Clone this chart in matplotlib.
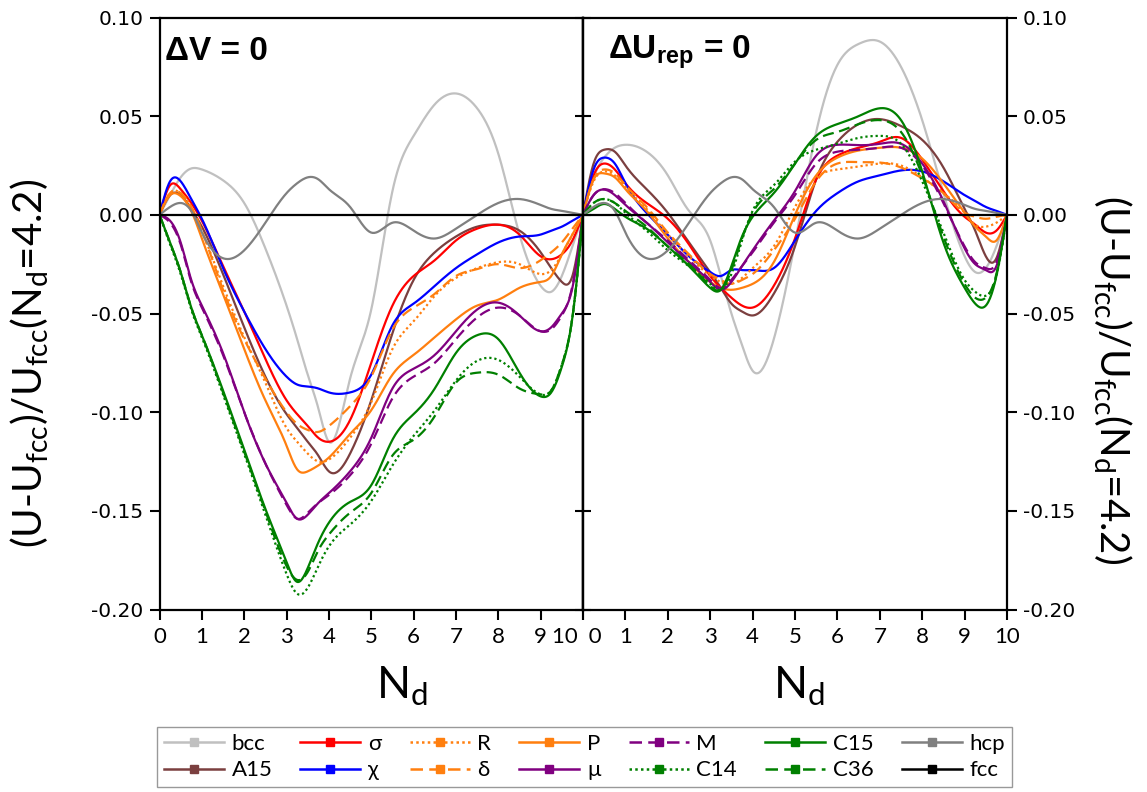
import numpy as np
import matplotlib
matplotlib.use("Agg")
import matplotlib.pyplot as plt
from matplotlib.lines import Line2D
from matplotlib.ticker import FormatStrFormatter

# ---------------------------------------------------------------- data
nd = [0, 0.25, 0.5, 0.75, 1, 1.5, 2, 2.5, 3, 3.25, 3.5, 3.75, 4, 4.5, 5,
      5.5, 6, 6.5, 7, 7.5, 8, 8.5, 9, 9.25, 9.5, 9.75, 10]
nd_ticks = [0, 1, 2, 3, 4, 5, 6, 7, 8, 9, 10]

# Panel 1: Delta V = 0
bcc_dv = [0, 0.010, 0.019, 0.0235, 0.023, 0.0175, 0.006, -0.017, -0.046, -0.063, -0.081, -0.098, -0.115,
          -0.083, -0.048, 0.012, 0.040, 0.056, 0.0615, 0.054, 0.031, -0.010, -0.036, -0.039, -0.031, -0.016, 0]
a15_dv = [0, 0.010, 0.010, 0.003, -0.006, -0.030, -0.057, -0.082, -0.101, -0.108, -0.115, -0.122, -0.130,
          -0.121, -0.094, -0.060, -0.033, -0.019, -0.011, -0.006, -0.005, -0.008, -0.019, -0.027, -0.034, -0.031, 0]
sigma_dv = [0, 0.015, 0.013, 0.006, -0.003, -0.026, -0.049, -0.073, -0.094, -0.101, -0.107, -0.113, -0.115,
            -0.104, -0.075, -0.046, -0.031, -0.023, -0.013, -0.007, -0.005, -0.010, -0.021, -0.0225, -0.020, -0.013, 0]
chi_dv = [0, 0.017, 0.017, 0.008, -0.002, -0.027, -0.049, -0.068, -0.082, -0.086, -0.087, -0.088, -0.090,
          -0.090, -0.081, -0.056, -0.045, -0.036, -0.027, -0.020, -0.014, -0.011, -0.010, -0.008, -0.006, -0.003, 0]
r_dv = [0, 0.011, 0.011, 0.004, -0.008, -0.036, -0.062, -0.085, -0.108, -0.115, -0.121, -0.125, -0.124,
        -0.113, -0.095, -0.068, -0.054, -0.041, -0.032, -0.027, -0.024, -0.025, -0.030, -0.028, -0.020, -0.010, 0]
delta_dv = [0, 0.011, 0.011, 0.004, -0.008, -0.038, -0.063, -0.083, -0.100, -0.106, -0.109, -0.110, -0.107,
            -0.097, -0.082, -0.058, -0.047, -0.040, -0.031, -0.0275, -0.025, -0.027, -0.023, -0.019, -0.014, -0.007, 0]
p_dv = [0, 0.010, 0.0095, 0.002, -0.012, -0.040, -0.068, -0.094, -0.117, -0.129, -0.130, -0.127, -0.123,
        -0.111, -0.099, -0.081, -0.071, -0.062, -0.053, -0.046, -0.043, -0.037, -0.034, -0.031, -0.020, -0.010, 0]
mu_dv = [0, -0.003, -0.014, -0.033, -0.046, -0.070, -0.100, -0.126, -0.146, -0.154, -0.152, -0.146, -0.141,
         -0.130, -0.113, -0.088, -0.078, -0.071, -0.059, -0.048, -0.0445, -0.051, -0.059, -0.057, -0.050, -0.037, 0]
m_dv = [0, -0.004, -0.015, -0.034, -0.047, -0.071, -0.100, -0.126, -0.147, -0.154, -0.151, -0.146, -0.142,
        -0.132, -0.116, -0.093, -0.082, -0.075, -0.063, -0.052, -0.047, -0.051, -0.059, -0.058, -0.051, -0.036, 0]
c14_dv = [0, -0.015, -0.030, -0.048, -0.062, -0.091, -0.121, -0.152, -0.182, -0.192, -0.189, -0.178, -0.168,
          -0.157, -0.145, -0.127, -0.112, -0.099, -0.084, -0.074, -0.0735, -0.082, -0.091, -0.089, -0.076, -0.052, 0]
c15_dv = [0, -0.014, -0.029, -0.047, -0.061, -0.089, -0.119, -0.149, -0.176, -0.186, -0.179, -0.166, -0.156,
          -0.1455, -0.137, -0.114, -0.101, -0.088, -0.070, -0.061, -0.063, -0.080, -0.092, -0.090, -0.077, -0.052, 0]
c36_dv = [0, -0.014, -0.029, -0.047, -0.061, -0.090, -0.120, -0.150, -0.178, -0.185, -0.181, -0.170, -0.162,
          -0.151, -0.141, -0.122, -0.114, -0.102, -0.085, -0.080, -0.081, -0.088, -0.091, -0.089, -0.076, -0.052, 0]

# Panel 2: Delta U_rep = 0
bcc_du = [0, 0.019, 0.029, 0.034, 0.0355, 0.032, 0.020, 0.002, -0.013, -0.031, -0.050, -0.066, -0.079,
          -0.063, -0.014, 0.042, 0.076, 0.0866, 0.0878, 0.075, 0.048, 0.011, -0.021, -0.029, -0.027, -0.016, 0]
a15_du = [0, 0.026, 0.033, 0.032, 0.025, 0.013, 0.001, -0.014, -0.029, -0.037, -0.045, -0.049, -0.051,
          -0.040, -0.016, 0.018, 0.037, 0.046, 0.0485, 0.045, 0.038, 0.024, 0.003, -0.008, -0.021, -0.022, 0]
sigma_du = [0, 0.020, 0.026, 0.023, 0.016, 0.006, -0.002, -0.015, -0.031, -0.037, -0.042, -0.046, -0.047,
            -0.036, -0.012, 0.018, 0.030, 0.034, 0.037, 0.039, 0.028, 0.012, -0.001, -0.005, -0.009, -0.008, 0]
chi_du = [0, 0.023, 0.029, 0.026, 0.016, 0.001, -0.010, -0.021, -0.029, -0.031, -0.028, -0.028, -0.028,
          -0.027, -0.013, 0.002, 0.011, 0.017, 0.020, 0.0225, 0.022, 0.017, 0.010, 0.007, 0.004, 0.002, 0]
r_du = [0, 0.017, 0.022, 0.020, 0.014, 0.003, -0.010, -0.021, -0.031, -0.034, -0.035, -0.032, -0.027,
        -0.016, 0.004, 0.019, 0.023, 0.0245, 0.026, 0.025, 0.019, 0.011, 0.001, -0.005, -0.006, -0.004, 0]
delta_du = [0, 0.018, 0.023, 0.021, 0.015, 0.004, -0.009, -0.020, -0.030, -0.033, -0.035, -0.033, -0.030,
            -0.018, -0.002, 0.017, 0.026, 0.0267, 0.0265, 0.024, 0.0185, 0.011, 0.001, -0.001, -0.002, -0.001, 0]
p_du = [0, 0.018, 0.021, 0.019, 0.013, 0.002, -0.012, -0.024, -0.034, -0.037, -0.038, -0.037, -0.035,
        -0.024, 0.000, 0.020, 0.029, 0.0326, 0.034, 0.034, 0.0285, 0.016, 0.001, -0.006, -0.011, -0.013, 0]
mu_du = [0, 0.010, 0.0128, 0.010, 0.005, -0.004, -0.014, -0.024, -0.034, -0.038, -0.034, -0.026, -0.018,
         -0.003, 0.012, 0.030, 0.0355, 0.0353, 0.036, 0.036, 0.026, 0.007, -0.017, -0.025, -0.028, -0.026, 0]
m_du = [0, 0.010, 0.013, 0.011, 0.006, -0.004, -0.013, -0.023, -0.033, -0.037, -0.033, -0.026, -0.019,
        -0.004, 0.010, 0.026, 0.032, 0.033, 0.034, 0.034, 0.025, 0.006, -0.016, -0.024, -0.027, -0.024, 0]
c14_du = [0, 0.006, 0.008, 0.006, 0.001, -0.008, -0.018, -0.026, -0.035, -0.038, -0.030, -0.013, 0.002,
          0.015, 0.027, 0.033, 0.036, 0.039, 0.040, 0.036, 0.017, -0.009, -0.033, -0.039, -0.041, -0.031, 0]
c15_du = [0, 0.003, 0.0055, 0.003, -0.001, -0.007, -0.016, -0.026, -0.037, -0.038, -0.026, -0.011, -0.001,
          0.011, 0.026, 0.040, 0.046, 0.050, 0.054, 0.048, 0.022, -0.014, -0.037, -0.045, -0.046, -0.031, 0]
c36_du = [0, 0.006, 0.008, 0.006, 0.002, -0.006, -0.016, -0.025, -0.036, -0.038, -0.028, -0.012, 0.001,
          0.013, 0.026, 0.038, 0.042, 0.046, 0.048, 0.042, 0.020, -0.011, -0.035, -0.042, -0.042, -0.030, 0]

# hcp and the fcc reference are the same in both panels
hcp = [0, 0.004, 0.006, 0.002, -0.009, -0.022, -0.018, -0.004, 0.011, 0.016, 0.019, 0.018, 0.013,
       0.004, -0.009, -0.004, -0.008, -0.012, -0.007, 0.000, 0.006, 0.008, 0.005, 0.003, 0.002, 0.001, 0]
fcc = [0, 0, 0, 0, 0, 0, 0, 0, 0, 0, 0, 0, 0, 0, 0, 0, 0, 0, 0, 0, 0, 0, 0, 0, 0, 0, 0]

labels = ["bcc", "A15", "σ", "χ", "R", "δ", "P", "μ", "M", "C14", "C15", "C36", "hcp", "fcc"]
colors = ["#c0c0c0", "#7b3f3f", "#ff0000", "#0000ff", "#ff7f0f", "#ff7f0f", "#ff7f0f",
          "#800080", "#800080", "#008000", "#008000", "#008000", "#808080", "#000000"]
styles = ["-", "-", "-", "-", (0, (1, 1.3)), (0, (5, 2.5)), "-",
          "-", (0, (5, 2.5)), (0, (1, 1.3)), "-", (0, (5, 2.5)), "-", "-"]

series_dv = [bcc_dv, a15_dv, sigma_dv, chi_dv, r_dv, delta_dv, p_dv, mu_dv, m_dv,
             c14_dv, c15_dv, c36_dv, hcp, fcc]
series_du = [bcc_du, a15_du, sigma_du, chi_du, r_du, delta_du, p_du, mu_du, m_du,
             c14_du, c15_du, c36_du, hcp, fcc]


def spline(x, y, n=500):
    """Natural cubic spline through the points (smooth line connection)."""
    x = np.asarray(x, float)
    y = np.asarray(y, float)
    k = len(x)
    h = np.diff(x)
    A = np.zeros((k, k))
    b = np.zeros(k)
    A[0, 0] = A[-1, -1] = 1.0
    for i in range(1, k - 1):
        A[i, i - 1] = h[i - 1]
        A[i, i] = 2 * (h[i - 1] + h[i])
        A[i, i + 1] = h[i]
        b[i] = 6 * ((y[i + 1] - y[i]) / h[i] - (y[i] - y[i - 1]) / h[i - 1])
    M = np.linalg.solve(A, b)
    xs = np.linspace(x[0], x[-1], n)
    j = np.clip(np.searchsorted(x, xs) - 1, 0, k - 2)
    hh = x[j + 1] - x[j]
    t0 = x[j + 1] - xs
    t1 = xs - x[j]
    ys = (M[j] * t0 ** 3 / (6 * hh) + M[j + 1] * t1 ** 3 / (6 * hh)
          + (y[j] / hh - M[j] * hh / 6) * t0 + (y[j + 1] / hh - M[j + 1] * hh / 6) * t1)
    return xs, ys


# ---------------------------------------------------------------- figure
plt.rcParams["axes.unicode_minus"] = False
plt.rcParams["mathtext.fontset"] = "custom"
plt.rcParams["mathtext.rm"] = "Lato"
plt.rcParams["mathtext.bf"] = "Liberation Sans:bold"

NARROW = ["Lato", "DejaVu Sans"]
W, H = 1147, 792
fig = plt.figure(figsize=(W / 100, H / 100), dpi=100)


def fx(px):
    return px / W


def fy(py):
    return 1 - py / H


ax1 = fig.add_axes([fx(159.5), fy(609.5), (583 - 159.5) / W, (609.5 - 17.5) / H])
ax2 = fig.add_axes([fx(583), fy(609.5), (1007 - 583) / W, (609.5 - 17.5) / H])

yticks = [-0.20, -0.15, -0.10, -0.05, 0.00, 0.05, 0.10]

for ax, data in ((ax1, series_dv), (ax2, series_du)):
    for vals, lab, col, ls in zip(data, labels, colors, styles):
        xs, ys = spline(nd, vals)
        z = 5 if lab == "fcc" else 2
        ax.plot(xs, ys, color=col, ls=ls, lw=1.6, zorder=z, solid_capstyle="round")
    ax.set_xlim(0, 10)
    ax.set_ylim(-0.20, 0.10)
    ax.set_xticks(nd_ticks)
    ax.set_yticks(yticks)
    ax.yaxis.set_major_formatter(FormatStrFormatter("%.2f"))
    for s in ax.spines.values():
        s.set_linewidth(1.6)
    ax.tick_params(axis="x", direction="out", length=7.5, width=1.5, top=False,
                   labelsize=16, pad=5)

# x tick labels; the "10 | 0" pair at the shared edge is pushed apart
left_lbls = [str(v) for v in nd_ticks]
left_lbls[-1] = left_lbls[-1] + " "
right_lbls = [str(v) for v in nd_ticks]
right_lbls[0] = " " + right_lbls[0]
ax1.set_xticklabels(left_lbls, family=NARROW)
ax2.set_xticklabels(right_lbls, family=NARROW)
ax1.get_xticklabels()[-1].set_horizontalalignment("right")
ax2.get_xticklabels()[0].set_horizontalalignment("left")

# left panel: outward ticks with labels on the left, inward ticks on the shared edge
ax1.tick_params(axis="y", direction="out", length=7.5, width=1.5, left=True, right=False,
                labelsize=14.5, pad=4)
sec1 = ax1.secondary_yaxis("right")
sec1.set_yticks(yticks)
sec1.tick_params(direction="in", length=6, width=1.5, labelright=False)
sec1.spines["right"].set_linewidth(1.6)

# right panel: inward ticks on the shared edge, labelled outward ticks on the right
ax2.tick_params(axis="y", direction="out", length=7.5, width=1.5, left=False, right=True,
                labelleft=False, labelright=True, labelsize=14.5, pad=4)
sec2 = ax2.secondary_yaxis("left")
sec2.set_yticks(yticks)
sec2.tick_params(direction="in", length=6, width=1.5, labelleft=False)
sec2.spines["left"].set_linewidth(1.6)

# panel annotations
ax1.text(0.012, 0.942, "ΔV = 0", transform=ax1.transAxes, fontsize=24,
         fontweight="bold", family="Liberation Sans", va="center", ha="left")
ax2.text(0.058, 0.942, r"ΔU$_{\mathbf{rep}}$ = 0", transform=ax2.transAxes, fontsize=24,
         fontweight="bold", family="Liberation Sans", va="center", ha="left")

# axis titles
ylab = r"(U-U$_{\mathregular{fcc}}$)/U$_{\mathregular{fcc}}$(N$_{\mathregular{d}}$=4.2)"
fig.text(fx(30), fy(363), ylab, rotation=90, fontsize=29, family=NARROW,
         ha="center", va="center")
fig.text(fx(1112), fy(380), ylab, rotation=-90, fontsize=29, family=NARROW,
         ha="center", va="center")
xlab = r"N$_{\mathregular{d}}$"
fig.text(fx(402), fy(686), xlab, fontsize=32, family=NARROW, ha="center", va="center")
fig.text(fx(799), fy(686), xlab, fontsize=32, family=NARROW, ha="center", va="center")

# legend
handles = [Line2D([], [], color=c, ls=ls, lw=1.8, marker="s", markersize=6)
           for c, ls in zip(colors, styles)]
leg = fig.legend(handles, labels, ncol=7, loc="upper left", mode="expand",
                 bbox_to_anchor=(fx(157), fy(800), fx(1012) - fx(157), fy(727) - fy(800)),
                 borderaxespad=0, prop={"family": NARROW, "size": 16},
                 handlelength=2.7, handletextpad=0.35, labelspacing=0.3,
                 borderpad=0.3, frameon=True, fancybox=False, edgecolor="#808080")
leg.get_frame().set_linewidth(1.0)

fig.savefig("out.png", dpi=100)
